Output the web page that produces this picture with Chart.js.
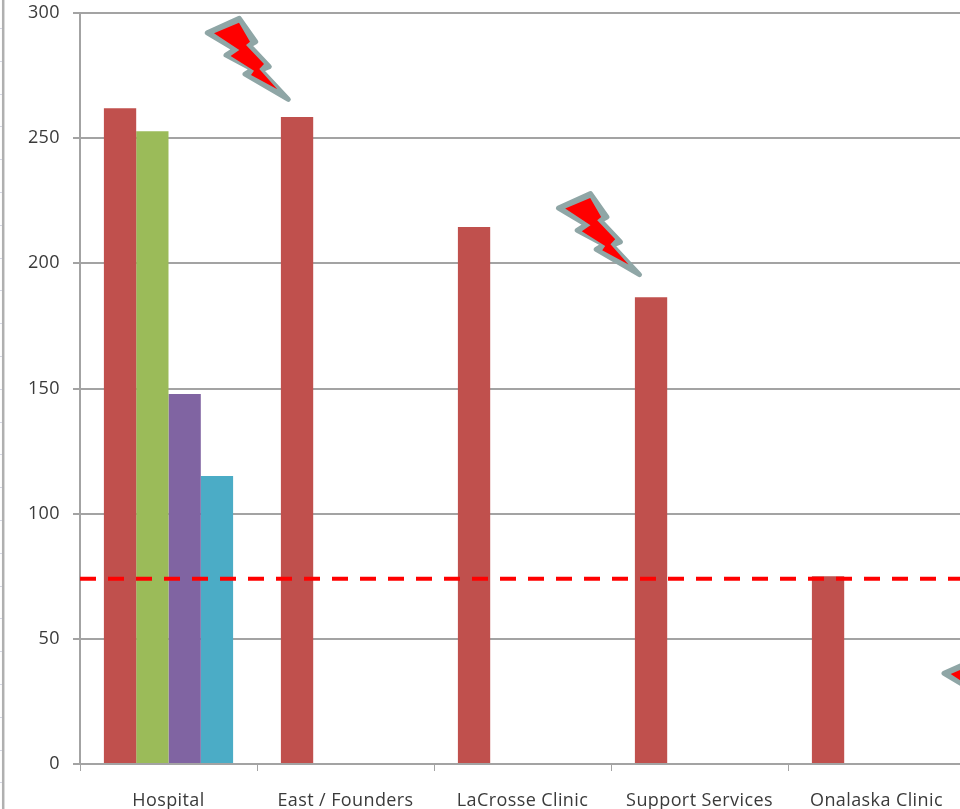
<!DOCTYPE html>
<html>
<head>
<meta charset="utf-8">
<style>
html,body{margin:0;padding:0;background:#fff;overflow:hidden}
#wrap{position:relative;width:970px;height:809px}
</style>
<script src="https://cdn.jsdelivr.net/npm/chart.js@4/dist/chart.umd.min.js"></script>
</head>
<body>
<div id="wrap"><canvas id="mychart" width="970" height="809"></canvas></div>
<script>
'use strict';
const categories=['Hospital','East / Founders','LaCrosse Clinic','Support Services','Onalaska Clinic'];
const seriesRed=[262,258.5,214.5,186.5,75];
const seriesGreen=[252.8,null,null,null,null];
const seriesPurple=[147.8,null,null,null,null];
const seriesBlue=[115,null,null,null,null];
const yTicks=[0,50,100,150,200,250,300];
const targetLine=74;
const axisGrey='#a3a3a3';

// lightning bolt outlines, measured from the tip of the bolt
const boltOuter=[[0,0],[-43.3,-25.3],[-35.6,-30],[-62.3,-44.3],[-53.3,-50],[-81,-66.6],[-49,-81],[-32.6,-57.6],[-39,-54],[-19,-32.6],[-27.6,-29.3]];
const boltInner=[[-11,-10],[-37.3,-24.3],[-34.3,-28.7],[-57.7,-43.3],[-49,-49.3],[-74.3,-66],[-49.3,-76.7],[-38.3,-57.7],[-42.3,-54.3],[-24.3,-35.3],[-29,-30.3]];
// each bolt points at a value, shifted sideways from its category centre
const bolts=[{cat:1,value:265.5,dx:-57.2},{cat:3,value:195.5,dx:-60},{cat:4,value:9.6,dx:148.5}];

function tracePoly(ctx,pts,tx,ty){
  ctx.beginPath();
  pts.forEach((p,i)=>{
    if(i==0) ctx.moveTo(tx+p[0],ty+p[1]); else ctx.lineTo(tx+p[0],ty+p[1]);
  });
  ctx.closePath();
}

const extras={
  id:'extras',
  beforeDraw(chart){
    const ctx=chart.ctx;
    ctx.letterSpacing='0.4px';
    // ruler strip down the left edge
    ctx.save();
    ctx.strokeStyle='#b0b0b0';
    ctx.lineWidth=2.5;
    ctx.beginPath();
    ctx.moveTo(3.2,0);
    ctx.lineTo(3.2,chart.height);
    ctx.stroke();
    ctx.strokeStyle='#d4d6e2';
    ctx.lineWidth=1;
    for(let r=28;r<chart.height;r+=32.8){
      ctx.beginPath();
      ctx.moveTo(0,Math.round(r)+0.5);
      ctx.lineTo(2,Math.round(r)+0.5);
      ctx.stroke();
    }
    ctx.restore();
  },
  afterDatasetsDraw(chart){
    const ctx=chart.ctx,x=chart.scales.x,y=chart.scales.y;
    ctx.save();
    ctx.strokeStyle='#ff0000';
    ctx.lineWidth=4;
    ctx.setLineDash([16,12]);
    ctx.beginPath();
    ctx.moveTo(x.left,y.getPixelForValue(targetLine));
    ctx.lineTo(chart.width,y.getPixelForValue(targetLine));
    ctx.stroke();
    ctx.setLineDash([]);
    bolts.forEach(b=>{
      const tx=x.getPixelForValue(b.cat)+b.dx, ty=y.getPixelForValue(b.value);
      tracePoly(ctx,boltOuter,tx,ty);
      ctx.fillStyle='#8fa6a6';
      ctx.strokeStyle='#8fa6a6';
      ctx.lineWidth=5;
      ctx.lineJoin='round';
      ctx.fill();
      ctx.stroke();
      tracePoly(ctx,boltInner,tx,ty);
      ctx.fillStyle='#ff0000';
      ctx.fill();
    });
    ctx.restore();
  }
};

let mychart=document.getElementById('mychart').getContext('2d');
let barchart=new Chart(mychart,{
  type:'bar',
  plugins:[extras],
  data:{
    labels:categories,
    datasets:[
      {label:'Red',data:seriesRed,backgroundColor:'#c0504d'},
      {label:'Green',data:seriesGreen,backgroundColor:'#9bbb59'},
      {label:'Purple',data:seriesPurple,backgroundColor:'#8064a2'},
      {label:'Blue',data:seriesBlue,backgroundColor:'#4bacc6'}
    ]
  },
  options:{
    responsive:false,
    animation:false,
    layout:{padding:{top:13,right:5,bottom:0,left:0}},
    plugins:{legend:{display:false},title:{display:false},tooltip:{enabled:false}},
    datasets:{bar:{categoryPercentage:0.73,barPercentage:1}},
    scales:{
      x:{
        afterFit(axis){axis.height=45;axis.paddingLeft=0;axis.paddingRight=0;},
        grid:{drawOnChartArea:false,drawTicks:true,tickLength:7,tickColor:axisGrey,offset:true},
        border:{color:axisGrey,width:2},
        ticks:{color:'#3a3a3a',font:{family:'Open Sans',size:18},padding:19,maxRotation:0,autoSkip:false}
      },
      y:{
        min:0,max:300,
        afterBuildTicks(axis){axis.ticks=yTicks.map(v=>({value:v}));},
        afterFit(axis){axis.width=80;axis.paddingTop=0;axis.paddingBottom=0;},
        grid:{color:axisGrey,lineWidth:2,tickLength:7,tickColor:axisGrey},
        border:{color:axisGrey,width:2},
        ticks:{color:'#3a3a3a',font:{family:'Open Sans',size:18},padding:13}
      }
    }
  }
});
</script>
</body>
</html>
